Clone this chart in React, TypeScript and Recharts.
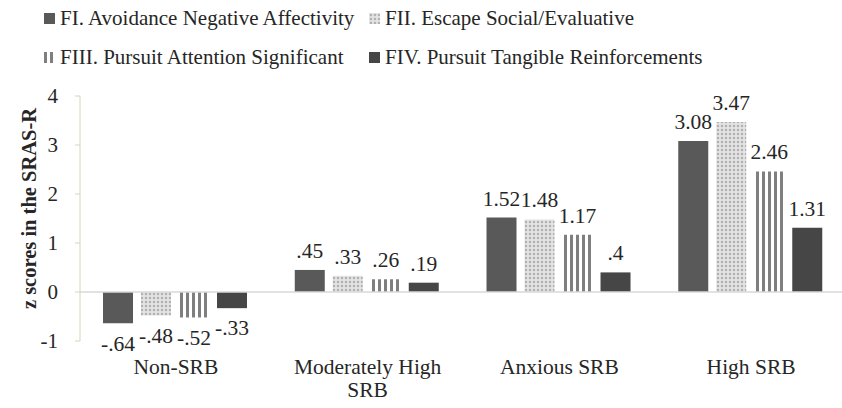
import { BarChart, Bar, XAxis, YAxis, ReferenceLine, LabelList, Label } from 'recharts'

const categories = ['Non-SRB', 'Moderately High SRB', 'Anxious SRB', 'High SRB']
const fiValues = [-0.64, 0.45, 1.52, 3.08]
const fiiValues = [-0.48, 0.33, 1.48, 3.47]
const fiiiValues = [-0.52, 0.26, 1.17, 2.46]
const fivValues = [-0.33, 0.19, 0.4, 1.31]
const seriesNames = [
  'FI. Avoidance Negative Affectivity',
  'FII. Escape Social/Evaluative',
  'FIII. Pursuit Attention Significant',
  'FIV. Pursuit Tangible Reinforcements',
]
const yTicks = [-1, 0, 1, 2, 3, 4]

const data = categories.map((category, i) => ({
  category,
  fi: fiValues[i],
  fii: fiiValues[i],
  fiii: fiiiValues[i],
  fiv: fivValues[i],
}))

const font = 'Liberation Serif'
const textColor = '#262626'
const fills = ['#595959', 'url(#dots)', 'url(#stripes)', '#464646']
const keys = ['fi', 'fii', 'fiii', 'fiv']

// .45 instead of 0.45, like the original figure
const fmt = (v: number) => String(v).replace(/^(-?)0\./, '$1.')

// crude word wrap by character count, good enough for the axis labels
function wrap(s: string, maxChars = 16) {
  const lines: string[] = []
  let cur = ''
  for (const w of s.split(' ')) {
    const next = cur ? cur + ' ' + w : w
    if (next.length > maxChars && cur) {
      lines.push(cur)
      cur = w
    } else cur = next
  }
  if (cur) lines.push(cur)
  return lines
}

function Patterns({ prefix = '' }: { prefix?: string }) {
  return (
    <defs>
      <pattern id={prefix + 'dots'} width='4' height='4' patternUnits='userSpaceOnUse'>
        <rect width='4' height='4' fill='#e4e4e4' />
        <rect x='1' y='1' width='2' height='2' fill='#a9a9a9' transform='rotate(45 2 2)' />
      </pattern>
      <pattern id={prefix + 'stripes'} width='6' height='6' patternUnits='userSpaceOnUse'>
        <rect width='6' height='6' fill='#ffffff' />
        <rect width='3' height='6' fill='#7f7f7f' />
      </pattern>
    </defs>
  )
}

function CategoryTick(props: any) {
  const { x, y, payload } = props
  const lines = wrap(String(payload.value))
  return (
    <text x={x} y={y + 25} textAnchor='middle' fontFamily={font} fontSize={21.5} fill={textColor}>
      {lines.map((ln, i) => (
        <tspan key={i} x={x} dy={i === 0 ? 0 : 23}>
          {ln}
        </tspan>
      ))}
    </text>
  )
}

function LegendBox() {
  const items = seriesNames.map((name, i) => ({ name, fill: fills[i].replace('url(#', 'url(#lg-') }))
  const pos = [
    { left: 44, top: 6 },
    { left: 369, top: 6 },
    { left: 44, top: 45 },
    { left: 369, top: 45 },
  ]
  return (
    <>
      <svg width={0} height={0} style={{ position: 'absolute' }}>
        <Patterns prefix='lg-' />
      </svg>
      {items.map((it, i) => (
        <div
          key={it.name}
          style={{
            position: 'absolute',
            left: pos[i].left,
            top: pos[i].top,
            display: 'flex',
            alignItems: 'center',
            fontFamily: font,
            fontSize: 21,
            color: textColor,
            whiteSpace: 'nowrap',
            lineHeight: '24px',
          }}
        >
          <svg width={11} height={11} style={{ marginRight: 5 }}>
            <rect width={11} height={11} fill={it.fill} />
          </svg>
          {it.name}
        </div>
      ))}
    </>
  )
}

export default function App() {
  return (
    <div style={{ position: 'absolute', left: 0, top: 0, width: 842, height: 408, overflow: 'hidden', background: '#fff' }}>
      <LegendBox />
      <BarChart
        width={848}
        height={408}
        data={data}
        margin={{ top: 96, right: 1, bottom: 0, left: 0 }}
        barCategoryGap='12%'
        barGap={8}
      >
        <Patterns />
        <XAxis dataKey='category' axisLine={false} tickLine={false} tick={<CategoryTick />} interval={0} height={67} />
        <YAxis
          domain={[-1, 4]}
          ticks={yTicks}
          width={80}
          axisLine={{ stroke: '#d8d3bd' }}
          tickLine={{ stroke: '#d8d3bd' }}
          tickSize={5}
          tickMargin={17}
          tick={{ fontFamily: font, fontSize: 21, fill: textColor }}
        >
          <Label
            content={({ viewBox }: any) => {
              const cx = viewBox.x + 29
              const cy = viewBox.y + viewBox.height / 2 - 10
              return (
                <text
                  x={cx}
                  y={cy}
                  transform={`rotate(-90 ${cx} ${cy})`}
                  textAnchor='middle'
                  dominantBaseline='central'
                  fontFamily={font}
                  fontSize={20.5}
                  fontWeight='bold'
                  fill={textColor}
                >
                  z scores in the SRAS-R
                </text>
              )
            }}
          />
        </YAxis>
        <ReferenceLine y={0} stroke='#d9d9d9' strokeWidth={1.5} />
        {keys.map((k, i) => (
          <Bar key={k} dataKey={k} name={seriesNames[i]} fill={fills[i]} isAnimationActive={false}>
            <LabelList
              dataKey={k}
              position='top'
              offset={12}
              formatter={(v: any) => fmt(Number(v))}
              style={{ fontFamily: font, fontSize: 21.5, fill: textColor }}
            />
          </Bar>
        ))}
      </BarChart>
    </div>
  )
}
